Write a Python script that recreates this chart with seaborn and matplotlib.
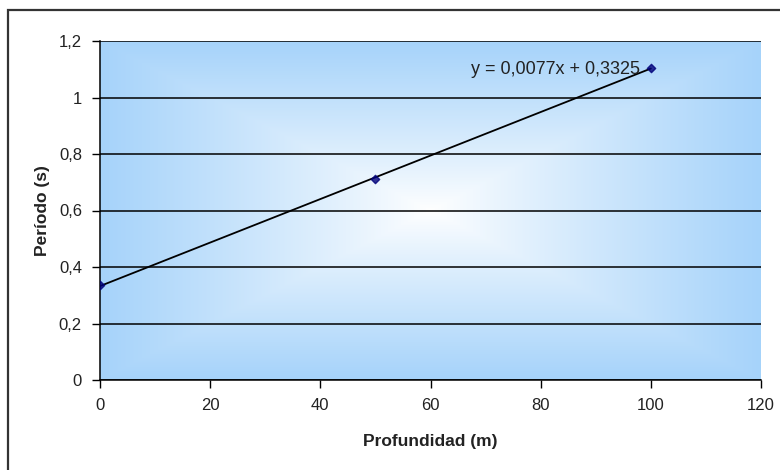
import numpy as np
import matplotlib
matplotlib.use('Agg')
import matplotlib.pyplot as plt
from matplotlib.patches import Rectangle
import seaborn as sns

# datos
profundidad = [0, 50, 100]
periodo = [0.335, 0.7125, 1.105]
ecuacion = 'y = 0,0077x + 0,3325'
xticks = [0, 20, 40, 60, 80, 100, 120]
yticks = [0, 0.2, 0.4, 0.6, 0.8, 1.0, 1.2]
ytick_labels = ['0', '0,2', '0,4', '0,6', '0,8', '1', '1,2']

sns.set_style('white')
plt.rcParams['font.family'] = ['Liberation Sans', 'DejaVu Sans']

fig = plt.figure(figsize=(7.8, 4.7), dpi=100)
ax = fig.add_axes([100 / 780, 1 - 380 / 470, 661 / 780, 339 / 470])

# fondo degradado tipo Excel (rectangular desde el centro)
u = np.linspace(-1, 1, 400)
v = np.linspace(-1, 1, 300)
U, V = np.meshgrid(u, v)
t = np.clip(np.maximum(np.abs(U), np.abs(V)), 0, 1) ** 0.9
blue = np.array([166, 211, 250]) / 255.0
white = np.array([1.0, 1.0, 1.0])
img = white[None, None, :] * (1 - t[..., None]) + blue[None, None, :] * t[..., None]
ax.imshow(img, extent=[0, 120, 0, 1.2], aspect='auto', zorder=0, origin='lower')

sns.regplot(x=profundidad, y=periodo, ax=ax, ci=None, truncate=True, marker='D',
            scatter_kws=dict(s=18, color='#00007a', zorder=4),
            line_kws=dict(color='black', lw=1.3, zorder=3))

ax.text(98, 1.1, ecuacion, ha='right', va='center', fontsize=13, color='#222222', zorder=5)

ax.set_xlim(0, 120)
ax.set_ylim(0, 1.2)
ax.set_xticks(xticks)
ax.set_xticklabels([str(x) for x in xticks], fontsize=12, color='#222222')
ax.set_yticks(yticks)
ax.set_yticklabels(ytick_labels, fontsize=12, color='#222222')
ax.yaxis.grid(True, color='black', lw=1.1)
ax.xaxis.grid(False)
ax.set_axisbelow(True)
for s in ['top', 'right']:
    ax.spines[s].set_visible(False)
for s in ['left', 'bottom']:
    ax.spines[s].set_color('black')
    ax.spines[s].set_linewidth(1.1)
ax.tick_params(axis='both', direction='out', length=6, width=1, color='black', pad=7,
               left=True, bottom=True)
ax.set_xlabel('Profundidad (m)', fontsize=12.5, fontweight='bold', color='#222222', labelpad=15)
ax.set_ylabel('Período (s)', fontsize=12.5, fontweight='bold', color='#222222', labelpad=6)

# marco del grafico
fig.patches.append(Rectangle((8 / 780, -0.1), 1.2, 1 - 10 / 470 + 0.1, transform=fig.transFigure,
                             fill=False, edgecolor='#333333', lw=1.6))

fig.savefig('out.png', dpi=100)
